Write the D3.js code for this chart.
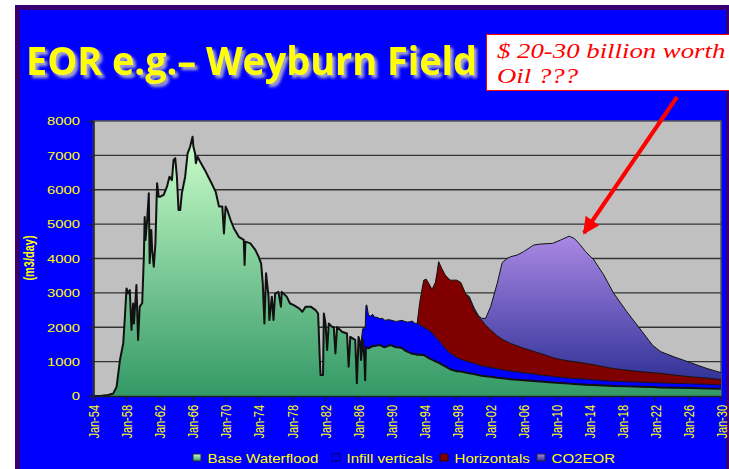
<!DOCTYPE html>
<html>
<head>
<meta charset="utf-8">
<script src="https://cdn.jsdelivr.net/npm/d3@7"></script>
<style>
  html, body { margin: 0; padding: 0; background: #fff; }
  svg { display: block; }
</style>
</head>
<body>
<svg id="chart" width="729" height="469"></svg>
<script>
// decimal years
const years = [
  1954.0, 1955.0, 1955.8, 1956.4, 1956.8, 1957.2, 1957.6, 1957.8, 1958.0, 1958.2,
  1958.4, 1958.6, 1958.8, 1958.9, 1959.2, 1959.4, 1959.6, 1959.9, 1960.1, 1960.2,
  1960.3, 1960.5, 1960.7, 1960.8, 1961.0, 1961.1, 1961.3, 1961.5, 1961.7, 1961.9,
  1962.1, 1962.5, 1962.9, 1963.2, 1963.5, 1963.7, 1963.9, 1964.1, 1964.3, 1964.5,
  1964.7, 1965.1, 1965.4, 1965.7, 1966.0, 1966.1, 1966.3, 1966.4, 1966.6, 1966.9,
  1967.5, 1967.9, 1968.3, 1968.8, 1969.2, 1969.6, 1969.8, 1970.0, 1970.2, 1970.6,
  1971.0, 1971.6, 1972.2, 1972.3, 1972.4, 1973.0, 1973.6, 1974.0, 1974.3, 1974.5,
  1974.7, 1974.9, 1975.2, 1975.3, 1975.6, 1975.8, 1976.0, 1976.4, 1976.7, 1976.8,
  1977.4, 1977.8, 1978.2, 1978.9, 1979.3, 1979.7, 1980.3, 1980.9, 1981.2, 1981.4,
  1981.5, 1981.8, 1981.9, 1982.1, 1982.3, 1982.5, 1982.9, 1983.1, 1983.3, 1983.5,
  1984.1, 1984.7, 1984.9, 1985.1, 1985.7, 1985.9, 1986.1, 1986.3, 1986.4, 1986.6,
  1986.8, 1986.9, 1987.0, 1987.1, 1987.3, 1987.6, 1987.8, 1988.0, 1988.3, 1988.7,
  1989.0, 1989.3, 1989.7, 1990.0, 1990.4, 1990.7, 1991.1, 1991.4, 1991.7, 1992.0,
  1992.3, 1992.6, 1992.9, 1993.2, 1993.5, 1993.8, 1994.0, 1994.3, 1994.6, 1995.0,
  1995.4, 1995.6, 1995.8, 1996.0, 1996.2, 1996.6, 1997.2, 1997.6, 1998.0, 1998.5,
  1999.1, 1999.5, 2000.1, 2000.6, 2001.0, 2001.5, 2002.1, 2002.9, 2003.5, 2004.1,
  2004.5, 2005.3, 2006.1, 2007.3, 2008.1, 2009.6, 2010.6, 2011.6, 2012.2, 2012.8,
  2013.6, 2014.6, 2015.8, 2017.0, 2018.6, 2020.3, 2021.7, 2022.7, 2024.3, 2026.3,
  2028.3, 2030.0
];

// m3/day for each layer
const baseWaterflood = [
  0, 10, 30, 75, 270, 1040, 1530, 2300, 3130, 2985,
  3080, 1920, 2690, 2110, 3230, 1630, 2600, 2700, 4050, 5210,
  4540, 5120, 5900, 3860, 4830, 4250, 3760, 4440, 6190, 5800,
  5800, 5850, 6090, 6380, 6280, 6870, 6920, 6380, 5410, 5410,
  5900, 6380, 7060, 7250, 7540, 7250, 7060, 6770, 6960, 6820,
  6570, 6380, 6190, 5940, 5510, 5510, 4730, 5510, 5410, 5120,
  4880, 4630, 4540, 3810, 4490, 4440, 4250, 4050, 3860, 3280,
  2110, 3570, 2890, 2210, 2890, 2210, 2980, 3030, 2600, 3030,
  2890, 2690, 2650, 2550, 2450, 2600, 2600, 2500, 2400, 1140,
  610, 610, 2400, 2110, 1340, 2110, 2010, 2010, 1240, 2010,
  1870, 1820, 850, 1720, 1630, 370, 1720, 1500, 1050, 1650,
  1100, 460, 1430, 1400, 1390, 1420, 1460, 1450, 1470, 1480,
  1440, 1420, 1460, 1480, 1440, 1420, 1410, 1390, 1330, 1290,
  1260, 1230, 1220, 1200, 1200, 1190, 1190, 1150, 1100, 1060,
  1010, 990, 970, 940, 910, 860, 780, 750, 720, 710,
  680, 660, 640, 610, 590, 575, 560, 530, 515, 500,
  490, 470, 455, 435, 420, 390, 375, 360, 350, 340,
  330, 320, 305, 290, 280, 270, 260, 250, 240, 230,
  220, 210
];

const infillVerticals = [
  0, 0, 0, 0, 0, 0, 0, 0, 0, 0,
  0, 0, 0, 0, 0, 0, 0, 0, 0, 0,
  0, 0, 0, 0, 0, 0, 0, 0, 0, 0,
  0, 0, 0, 0, 0, 0, 0, 0, 0, 0,
  0, 0, 0, 0, 0, 0, 0, 0, 0, 0,
  0, 0, 0, 0, 0, 0, 0, 0, 0, 0,
  0, 0, 0, 0, 0, 0, 0, 0, 0, 0,
  0, 0, 0, 0, 0, 0, 0, 0, 0, 0,
  0, 0, 0, 0, 0, 0, 0, 0, 0, 0,
  0, 0, 0, 0, 0, 0, 0, 0, 0, 0,
  0, 0, 0, 0, 0, 0, 0, 100, 500, 300,
  900, 1500, 1200, 1250, 970, 900, 920, 850, 820, 770,
  820, 780, 760, 730, 740, 750, 780, 810, 840, 860,
  900, 950, 900, 910, 880, 830, 810, 810, 820, 770,
  710, 680, 650, 620, 590, 520, 460, 430, 400, 360,
  340, 330, 310, 300, 290, 280, 270, 260, 250, 240,
  235, 230, 220, 205, 190, 180, 170, 160, 160, 160,
  160, 150, 145, 140, 135, 130, 130, 130, 130, 125,
  120, 110
];

const horizontals = [
  ...Array(133).fill(0),
  0, 620, 1100, 1370, 1440, 1360, 1270,
  1580, 1900, 2290, 2250, 2200, 2140, 2130, 2190, 2250, 2230,
  1940, 1850, 1550, 1400, 1330, 1205, 1090, 960, 885, 840,
  805, 760, 715, 660, 630, 550, 515, 500, 490, 480,
  460, 440, 400, 370, 335, 310, 290, 280, 240, 205,
  180, 160
];

const co2Eor = [
  ...Array(150).fill(0),
  0, 60, 60, 40, 50, 200, 680, 1530, 2230, 2420,
  2520, 2640, 2810, 3090, 3180, 3320, 3480, 3630, 3590, 3460,
  3250, 3050, 2670, 2190, 1700, 1210, 800, 630, 530, 410,
  280, 200
];

const seriesNames = ['Base Waterflood', 'Infill verticals', 'Horizontals', 'CO2EOR'];
const yTicks = [0, 1000, 2000, 3000, 4000, 5000, 6000, 7000, 8000];
const tickYears = [1954, 1958, 1962, 1966, 1970, 1974, 1978, 1982, 1986, 1990,
  1994, 1998, 2002, 2006, 2010, 2014, 2018, 2022, 2026, 2030];
const tickLabels = ['Jan-54', 'Jan-58', 'Jan-62', 'Jan-66', 'Jan-70', 'Jan-74', 'Jan-78',
  'Jan-82', 'Jan-86', 'Jan-90', 'Jan-94', 'Jan-98', 'Jan-02', 'Jan-06', 'Jan-10',
  'Jan-14', 'Jan-18', 'Jan-22', 'Jan-26', 'Jan-30'];

const yellow = '#ffff00';
const stretch = 1.35; // the slide is squeezed wider than it was drawn

function toDate(y) {
  const yr = Math.floor(y);
  const start = new Date(yr, 0, 1);
  const end = new Date(yr + 1, 0, 1);
  return new Date(start.getTime() + (y - yr) * (end - start));
}

const rows = years.map(function (y, i) {
  return {
    date: toDate(y),
    'Base Waterflood': baseWaterflood[i],
    'Infill verticals': infillVerticals[i],
    'Horizontals': horizontals[i],
    'CO2EOR': co2Eor[i]
  };
});

const svg = d3.select('#chart');
const defs = svg.append('defs');

function vGradient(id, top, bottom) {
  const g = defs.append('linearGradient').attr('id', id)
    .attr('x1', 0).attr('y1', 0).attr('x2', 0).attr('y2', 1);
  g.append('stop').attr('offset', '0%').attr('stop-color', top);
  g.append('stop').attr('offset', '100%').attr('stop-color', bottom);
}
vGradient('gGreen', '#ccffcc', '#339966');
vGradient('gPurple', '#aa88e4', '#333399');

// soft grey drop shadow for the title
const shadow = defs.append('filter').attr('id', 'shadow')
  .attr('x', '-5%').attr('y', '-20%').attr('width', '115%').attr('height', '150%');
shadow.append('feGaussianBlur').attr('in', 'SourceAlpha').attr('stdDeviation', 1.6).attr('result', 'blur');
shadow.append('feOffset').attr('in', 'blur').attr('dx', 3).attr('dy', 3).attr('result', 'off');
shadow.append('feFlood').attr('flood-color', '#a8a8c8');
shadow.append('feComposite').attr('in2', 'off').attr('operator', 'in').attr('result', 'sh');
const merge = shadow.append('feMerge');
merge.append('feMergeNode').attr('in', 'sh');
merge.append('feMergeNode').attr('in', 'SourceGraphic');

// slide background
svg.append('rect').attr('x', 15).attr('y', 5).attr('width', 714).attr('height', 464)
  .attr('fill', '#380070');
svg.append('rect').attr('x', 20).attr('y', 10).attr('width', 706).attr('height', 459)
  .attr('fill', '#0000ff');

// title
svg.append('text')
  .attr('x', 26).attr('y', 75)
  .attr('font-family', 'Open Sans, sans-serif').attr('font-weight', 700)
  .attr('font-size', 40).attr('fill', yellow)
  .attr('textLength', 451).attr('lengthAdjust', 'spacingAndGlyphs')
  .attr('filter', 'url(#shadow)')
  .text('EOR e.g.\u2013 Weyburn Field');

// chart
const margin = { left: 93.5, right: 721, top: 121, bottom: 396 };
const x = d3.scaleTime()
  .domain([toDate(1954), toDate(2030)])
  .range([margin.left, margin.right]);
const y = d3.scaleLinear()
  .domain([0, 8000])
  .range([margin.bottom, margin.top]);

svg.append('rect')
  .attr('x', margin.left).attr('y', margin.top)
  .attr('width', margin.right - margin.left).attr('height', margin.bottom - margin.top)
  .attr('fill', '#c0c0c0').attr('stroke', '#555').attr('stroke-width', 1.5);

svg.append('g').selectAll('line')
  .data(yTicks.filter(function (d) { return d > 0 && d < 8000; }))
  .enter().append('line')
  .attr('x1', margin.left).attr('x2', margin.right)
  .attr('y1', function (d) { return y(d); })
  .attr('y2', function (d) { return y(d); })
  .attr('stroke', '#333').attr('stroke-width', 1.3);

const stack = d3.stack().keys(seriesNames);
const layers = stack(rows);
const fills = ['url(#gGreen)', '#0000ff', '#800000', 'url(#gPurple)'];

const area = d3.area()
  .x(function (d) { return x(d.data.date); })
  .y0(function (d) { return y(d[0]); })
  .y1(function (d) { return y(d[1]); });

const topLine = d3.line()
  .x(function (d) { return x(d.data.date); })
  .y(function (d) { return y(d[1]); });

// only the part of each layer where it has flow
function activePart(layer) {
  const first = layer.findIndex(function (d) { return d[1] - d[0] > 0; });
  return layer.slice(Math.max(0, first - 1));
}

const plot = svg.append('g');
for (let i = layers.length - 1; i >= 0; i--) {
  plot.append('path')
    .datum(activePart(layers[i]))
    .attr('d', area)
    .attr('fill', fills[i]);
}
for (let i = layers.length - 1; i >= 0; i--) {
  plot.append('path')
    .datum(activePart(layers[i]))
    .attr('d', topLine)
    .attr('fill', 'none')
    .attr('stroke', '#111')
    .attr('stroke-width', i === 0 ? 2 : 1)
    .attr('stroke-linejoin', 'round');
}

// axes
const yAxis = svg.append('g')
  .attr('transform', 'translate(' + margin.left + ',0)')
  .call(d3.axisLeft(y).tickValues(yTicks).tickSize(5).tickFormat(d3.format('d')));
yAxis.select('.domain').attr('stroke', '#222').attr('stroke-width', 1.5);
yAxis.selectAll('.tick line').attr('stroke', '#222');
yAxis.selectAll('.tick text')
  .attr('x', -10).attr('dy', '0.35em')
  .attr('transform', 'scale(' + stretch + ',1)')
  .attr('fill', yellow)
  .attr('font-family', 'Liberation Sans, Arial, sans-serif')
  .attr('font-size', 11);

const xAxis = svg.append('g')
  .attr('transform', 'translate(0,' + margin.bottom + ')')
  .call(d3.axisBottom(x)
    .tickValues(tickYears.map(toDate))
    .tickSize(5)
    .tickFormat(function (d, i) { return tickLabels[i]; }));
xAxis.select('.domain').attr('stroke', '#222').attr('stroke-width', 1.5);
xAxis.selectAll('.tick line').attr('stroke', '#222');
xAxis.selectAll('.tick text')
  .attr('x', 0).attr('y', 0).attr('dy', '0.36em')
  .attr('transform', 'translate(0,9) scale(' + stretch + ',1) rotate(-90)')
  .attr('text-anchor', 'end')
  .attr('fill', yellow)
  .attr('font-family', 'Liberation Sans, Arial, sans-serif')
  .attr('font-size', 11);

svg.append('text')
  .attr('transform', 'translate(34,258) scale(' + stretch + ',1) rotate(-90)')
  .attr('text-anchor', 'middle')
  .attr('fill', yellow)
  .attr('font-family', 'Liberation Sans, Arial, sans-serif')
  .attr('font-weight', 'bold')
  .attr('font-size', 11)
  .text('(m3/day)');

// legend
const legendX = [193, 332, 440, 537];
const legendFill = ['url(#gGreen)', '#0000ff', '#800000', 'url(#gPurple)'];
const legendStroke = ['#224', '#000066', '#300', '#224'];
const legend = svg.append('g');
seriesNames.forEach(function (name, i) {
  legend.append('rect')
    .attr('x', legendX[i]).attr('y', 454)
    .attr('width', 8).attr('height', 7)
    .attr('fill', legendFill[i])
    .attr('stroke', legendStroke[i]).attr('stroke-width', 1);
  legend.append('text')
    .attr('transform', 'translate(' + (legendX[i] + 14.5) + ',463) scale(1.16,1)')
    .attr('fill', yellow)
    .attr('font-family', 'Liberation Sans, Arial, sans-serif')
    .attr('font-size', 13)
    .text(name);
});

// callout
svg.append('rect')
  .attr('x', 486.5).attr('y', 34.5).attr('width', 250).attr('height', 56)
  .attr('fill', '#fff').attr('stroke', '#ff0000').attr('stroke-width', 1);
const callout = ['$ 20-30 billion worth', 'Oil ???'];
callout.forEach(function (line, i) {
  svg.append('text')
    .attr('transform', 'translate(497,' + (58 + i * 25) + ') scale(1.34,1)')
    .attr('fill', '#ff0000')
    .attr('font-family', 'Liberation Serif, Times New Roman, serif')
    .attr('font-style', 'italic')
    .attr('font-size', 20)
    .text(line);
});

// arrow
defs.append('marker').attr('id', 'head')
  .attr('viewBox', '0 0 10 10').attr('refX', 9).attr('refY', 5)
  .attr('markerWidth', 4.2).attr('markerHeight', 4.2)
  .attr('markerUnits', 'strokeWidth')
  .attr('orient', 'auto')
  .append('path').attr('d', 'M0,0L10,5L0,10Z').attr('fill', '#ff0000');
svg.append('line')
  .attr('x1', 677).attr('y1', 97).attr('x2', 584).attr('y2', 233)
  .attr('stroke', '#ff0000').attr('stroke-width', 4)
  .attr('marker-end', 'url(#head)');
</script>
</body>
</html>
